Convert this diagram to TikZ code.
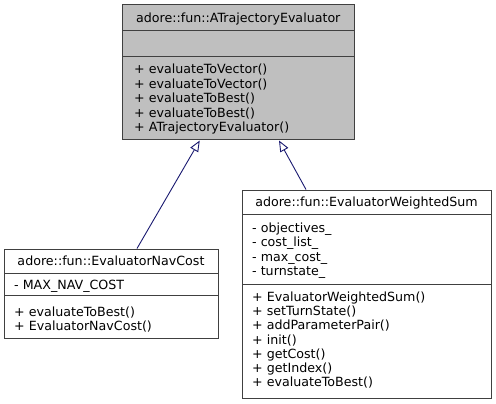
\documentclass[tikz,border=0pt]{standalone}
\usepackage{fontspec}
\setmainfont{DejaVu Sans}
\usetikzlibrary{arrows.meta}
\definecolor{edgeblue}{HTML}{191970}
\definecolor{boxgray}{HTML}{BFBFBF}
\definecolor{boxline}{HTML}{404040}
\newcommand{\umlfs}{\fontsize{12.65}{14.3}\selectfont}
\begin{document}
\begin{tikzpicture}[x=1pt,y=-1pt,
  box/.style={draw=boxline, line width=1pt, inner sep=0pt, rectangle},
  sep/.style={draw=boxline, line width=1pt},
  lbl/.style={inner sep=0pt, anchor=base west, font=\umlfs},
  ttl/.style={inner sep=0pt, anchor=base, font=\umlfs},
  inherit/.style={draw=edgeblue, line width=0.9pt, {Triangle[length=11pt, width=9pt, fill=white]}-}]
\useasboundingbox (0,0) rectangle (496,404);
% top box
\node[box, fill=boxgray, minimum width=231.5pt, minimum height=135pt] (top) at (238.25,72.5) {};
\draw[sep] (122.5,31) -- (354,31);
\draw[sep] (122.5,57) -- (354,57);
\node[ttl] (ttop) at (238.25,22.6) {adore::fun::ATrajectoryEvaluator};
\foreach \t [count=\i from 0] in {+ evaluateToVector(), + evaluateToVector(), + evaluateToBest(), + evaluateToBest(), + ATrajectoryEvaluator()}
  \node[lbl] (tm\i) at (134,74+14.4*\i) {\t};
% left box
\node[box, fill=white, minimum width=214pt, minimum height=89pt] (lbox) at (111,293.5) {};
\draw[sep] (4,273) -- (218,273);
\draw[sep] (4,295) -- (218,295);
\node[ttl] (tl) at (111,265.5) {adore::fun::EvaluatorNavCost};
\node[lbl] (la0) at (14,289.5) {- MAX\_NAV\_COST};
\foreach \t [count=\i from 0] in {+ evaluateToBest(), + EvaluatorNavCost()}
  \node[lbl] (lm\i) at (14,316.5+14*\i) {\t};
% right box
\node[box, fill=white, minimum width=249pt, minimum height=208pt] (rbox) at (366.5,294) {};
\draw[sep] (242,214) -- (491,214);
\draw[sep] (242,284) -- (491,284);
\node[ttl] (tr) at (366.5,206.5) {adore::fun::EvaluatorWeightedSum};
\foreach \t [count=\i from 0] in {- objectives\_, - cost\_list\_, - max\_cost\_, - turnstate\_}
  \node[lbl] (ra\i) at (252,232.5+14.3*\i) {\t};
\foreach \t [count=\i from 0] in {+ EvaluatorWeightedSum(), + setTurnState(), + addParameterPair(), + init(), + getCost(), + getIndex(), + evaluateToBest()}
  \node[lbl] (rm\i) at (252,301.5+14.17*\i) {\t};
% edges
\draw[inherit] ([xshift=-38.5pt]top.south) -- ([xshift=26pt]lbox.north);
\draw[inherit] ([xshift=40.75pt]top.south) -- ([xshift=-60.5pt]rbox.north);
\end{tikzpicture}
\end{document}
